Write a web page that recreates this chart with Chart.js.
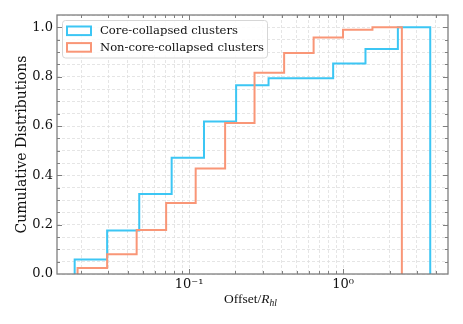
<!DOCTYPE html>
<html lang="en">
<head>
<meta charset="UTF-8">
<title>Cumulative Distributions</title>
<script src="https://cdn.jsdelivr.net/npm/chart.js"></script>
<style>
    body { margin: 0; background: #fff; }
    #chart { display: block; }
</style>
</head>
<body>
<canvas id="chart" width="463" height="324"></canvas>
<script>
    // bin edges (Offset / R_hl) and cumulative fractions, 11 bins per sample
    const coreEdges = [0.0181, 0.0294, 0.0475, 0.0771, 0.125, 0.202, 0.328, 0.532, 0.861, 1.396, 2.265, 3.673];
    const coreCum = [0.059, 0.176, 0.324, 0.471, 0.618, 0.765, 0.794, 0.794, 0.853, 0.912, 1.0];
    const nonCoreEdges = [0.0189, 0.0294, 0.0457, 0.0710, 0.1104, 0.1714, 0.266, 0.414, 0.643, 0.998, 1.549, 2.404];
    const nonCoreCum = [0.024, 0.080, 0.178, 0.288, 0.428, 0.612, 0.816, 0.896, 0.959, 0.990, 1.0];
    const seriesNames = ['Core-collapsed clusters', 'Non-core-collapsed clusters'];
    const seriesColors = ['#3cc6f4', '#f99677'];

    // log axis ticks (minor + major) and labels for the decades
    const xTickValues = [0.02, 0.03, 0.04, 0.05, 0.06, 0.07, 0.08, 0.09,
                         0.1, 0.2, 0.3, 0.4, 0.5, 0.6, 0.7, 0.8, 0.9,
                         1, 2, 3, 4];
    const xTickLabels = { '0.1': '10\u207B\u00B9', '1': '10\u2070' };
    const yTickLabels = ['0.0', '0.2', '0.4', '0.6', '0.8', '1.0'];

    const xMin = 0.0139, xMax = 4.79;

    // outline of a step histogram (no bottom line)
    function stepPoints(edges, cum) {
        const pts = [{ x: edges[0], y: 0 }];
        cum.forEach((c, i) => {
            pts.push({ x: edges[i], y: c });
            pts.push({ x: edges[i + 1], y: c });
        });
        pts.push({ x: edges[edges.length - 1], y: 0 });
        return pts;
    }

    function isDecade(v) {
        const l = Math.log10(v);
        return Math.abs(l - Math.round(l)) < 1e-6;
    }
    function isYMajor(v) {
        return Math.abs(v * 5 - Math.round(v * 5)) < 1e-6;
    }

    // frame, inward ticks, legend box and x label
    const decorations = {
        id: 'decorations',
        afterDraw(chart) {
            const { ctx, chartArea: a, scales: { x, y } } = chart;
            ctx.save();
            ctx.strokeStyle = '#7f7f7f';
            ctx.lineWidth = 1;
            ctx.beginPath();
            x.ticks.forEach(t => {
                const px = Math.round(x.getPixelForValue(t.value)) + 0.5;
                const len = isDecade(t.value) ? 5 : 3;
                ctx.moveTo(px, a.bottom); ctx.lineTo(px, a.bottom - len);
                ctx.moveTo(px, a.top); ctx.lineTo(px, a.top + len);
            });
            y.ticks.forEach(t => {
                if (t.value <= 0 || t.value >= 1.049) return;
                const py = Math.round(y.getPixelForValue(t.value)) + 0.5;
                const len = isYMajor(t.value) ? 5 : 3;
                ctx.moveTo(a.left, py); ctx.lineTo(a.left + len, py);
                ctx.moveTo(a.right, py); ctx.lineTo(a.right - len, py);
            });
            ctx.stroke();
            ctx.lineWidth = 1.3;
            ctx.strokeRect(a.left, a.top, a.width, a.height);

            // legend
            const lx = a.left + 5.5, ly = a.top + 5.5, lw = 205, lh = 37.5;
            ctx.beginPath();
            ctx.roundRect(lx, ly, lw, lh, 3);
            ctx.fillStyle = 'rgba(255,255,255,0.85)';
            ctx.fill();
            ctx.strokeStyle = '#d6d6d6';
            ctx.lineWidth = 1;
            ctx.stroke();
            ctx.font = '11.6px "DejaVu Serif"';
            ctx.textBaseline = 'middle';
            seriesNames.forEach((name, i) => {
                const cy = a.top + 15.8 + i * 16.6;
                ctx.fillStyle = '#fff';
                ctx.fillRect(a.left + 10, cy - 4.3, 24, 8.6);
                ctx.strokeStyle = seriesColors[i];
                ctx.lineWidth = 2;
                ctx.strokeRect(a.left + 10, cy - 4.3, 24, 8.6);
                ctx.fillStyle = '#111';
                ctx.fillText(name, a.left + 43, cy + 0.5);
            });

            // x axis label: Offset/R_hl
            const base = 303;
            const f1 = '13.5px "Liberation Serif"';
            const f2 = 'italic 13.5px "Liberation Serif"';
            const f3 = 'italic 9.5px "Liberation Serif"';
            ctx.textBaseline = 'alphabetic';
            ctx.font = f1; const w1 = ctx.measureText('Offset/').width;
            ctx.font = f2; const w2 = ctx.measureText('R').width;
            ctx.font = f3; const w3 = ctx.measureText('hl').width;
            let tx = (a.left + a.right) / 2 - (w1 + w2 + w3) / 2 - 2;
            ctx.fillStyle = '#111';
            ctx.font = f1; ctx.fillText('Offset/', tx, base); tx += w1;
            ctx.font = f2; ctx.fillText('R', tx, base); tx += w2;
            ctx.font = f3; ctx.fillText('hl', tx, base + 3);
            ctx.restore();
        }
    };

    const gridOpts = { color: '#dedede', lineWidth: 0.8, drawTicks: false };
    const borderOpts = { display: false, dash: [3, 2] };

    new Chart(document.getElementById('chart'), {
        type: 'line',
        data: {
            datasets: [
                {
                    label: seriesNames[0],
                    data: stepPoints(coreEdges, coreCum),
                    borderColor: seriesColors[0],
                    borderWidth: 2,
                    pointRadius: 0,
                    fill: false,
                    order: 1
                },
                {
                    label: seriesNames[1],
                    data: stepPoints(nonCoreEdges, nonCoreCum),
                    borderColor: seriesColors[1],
                    borderWidth: 2,
                    pointRadius: 0,
                    fill: false,
                    order: 0
                }
            ]
        },
        options: {
            responsive: false,
            animation: false,
            devicePixelRatio: 1,
            layout: { padding: { left: 0, right: 15, top: 15, bottom: 0 } },
            plugins: { legend: { display: false }, tooltip: { enabled: false } },
            scales: {
                x: {
                    type: 'logarithmic',
                    min: xMin,
                    max: xMax,
                    afterBuildTicks: axis => { axis.ticks = xTickValues.map(v => ({ value: v })); },
                    afterFit: axis => { axis.height = 50; },
                    grid: gridOpts,
                    border: borderOpts,
                    ticks: {
                        autoSkip: false,
                        maxRotation: 0,
                        padding: 3,
                        color: '#111',
                        font: { family: 'DejaVu Serif', size: 13 },
                        callback: v => xTickLabels[String(+v.toPrecision(6))] || ''
                    }
                },
                y: {
                    min: 0,
                    max: 1.05,
                    afterFit: axis => { axis.width = 57; },
                    grid: gridOpts,
                    border: borderOpts,
                    ticks: {
                        stepSize: 0.05,
                        autoSkip: false,
                        padding: 4,
                        color: '#111',
                        font: { family: 'DejaVu Serif', size: 13 },
                        callback: v => {
                            const k = v * 5;
                            return Math.abs(k - Math.round(k)) < 1e-6 ? yTickLabels[Math.round(k)] : '';
                        }
                    },
                    title: {
                        display: true,
                        text: 'Cumulative Distributions',
                        color: '#111',
                        font: { family: 'DejaVu Serif', size: 14 },
                        padding: { top: 14, bottom: 0 }
                    }
                }
            }
        },
        plugins: [decorations]
    });
</script>
</body>
</html>
